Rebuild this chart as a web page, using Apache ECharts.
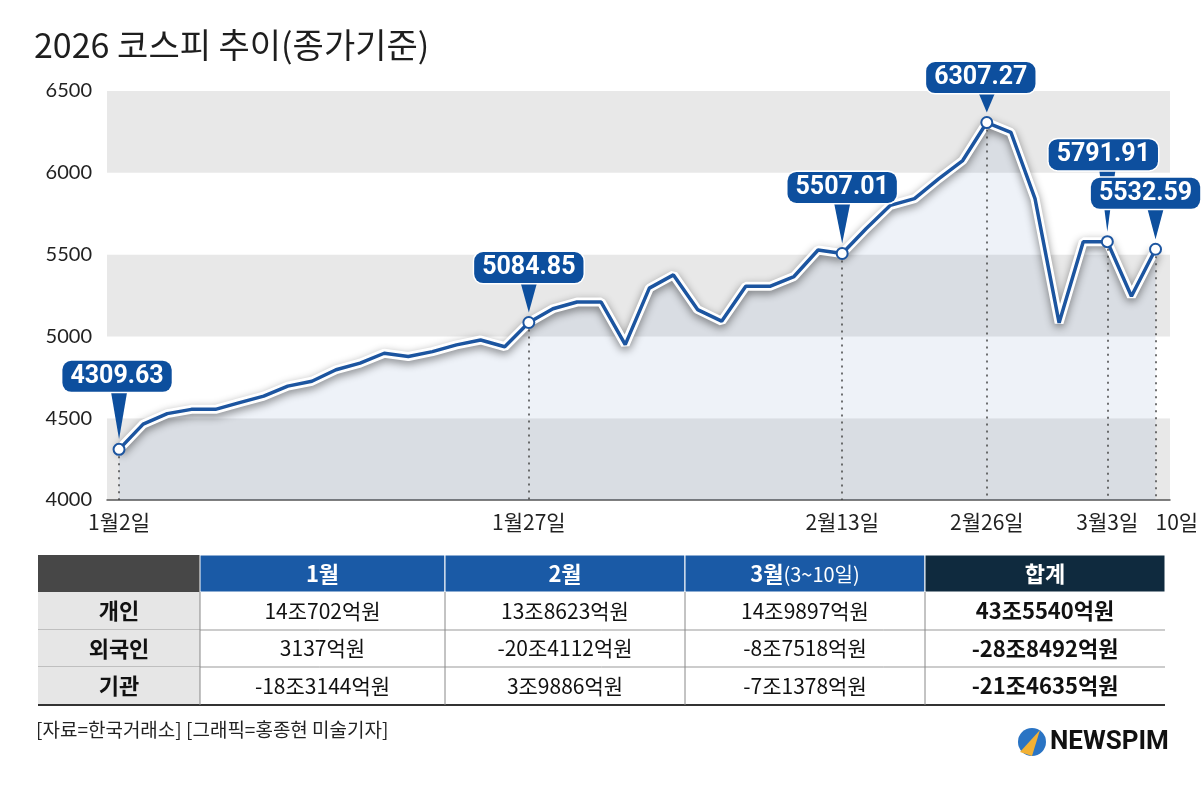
<!DOCTYPE html>
<html><head><meta charset="utf-8">
<script src="https://cdn.jsdelivr.net/npm/echarts@6/dist/echarts.min.js"></script>
<style>html,body{margin:0;padding:0;background:#fff}#c{width:1204px;height:786px}</style>
</head><body><div id="c"></div>
<script>
const title = '2026 코스피 추이(종가기준)';
const kospi = [4309.63,4464,4528,4554,4554,4595,4635,4696,4726,4796,4837,4897,4877,4907,4948,4978,4937,5084.85,5169,5210,5210,4950,5295,5376,5164,5093,5306,5306,5366,5528,5507.01,5660,5801,5842,5963,6075,6307.27,6247,5842,5083,5579,5579,5245,5532.59];
const xTickIndex = [0,17,30,36,41,43];
const xTickLabels = ['1월2일','1월27일','2월13일','2월26일','3월3일','10일'];
const markedIndex = [0,17,30,36,41,43];
const markedText = ['4309.63','5084.85','5507.01','6307.27','5791.91','5532.59'];
const yTicks = [4000,4500,5000,5500,6000,6500];
const tableCols = ['1월','2월','3월','합계'];
const tableRows = ['개인','외국인','기관'];
const tableVals = [
  ['14조702억원','13조8623억원','14조9897억원','43조5540억원'],
  ['3137억원','-20조4112억원','-8조7518억원','-28조8492억원'],
  ['-18조3144억원','3조9886억원','-7조1378억원','-21조4635억원']
];
const source = '[자료=한국거래소] [그래픽=홍종현 미술기자]';
const logo = 'NEWSPIM';

const F = '"Noto Sans CJK KR","Noto Sans",sans-serif';
const NUMF = '"Roboto","Lato",sans-serif';
const boxOff = [[-2,-73],[0,-55],[0,-66],[-6,-45],[-4,-87],[-10,-56]];
const lineData = kospi.map((v,i)=>[i,v]);
const markData = markedIndex.map((i,k)=>({
  value:[i,kospi[i]],
  label:{show:true,formatter:markedText[k],offset:boxOff[k]}
}));
const triData = markedIndex.map((i,k)=>{
  const top = boxOff[k][1]+16, bot = -10;
  return {value:[i,kospi[i]],symbolSize:[16,bot-top],symbolOffset:[0,(top+bot)/2]};
});
const dotLines = markedIndex.map(i=>[{coord:[i,kospi[i]]},{coord:[i,4000]}]);

const g = [];
g.push({type:'text',left:34,top:28,style:{text:title,font:'400 34px '+F,fill:'#1e1e1e'}});
const colX = [38,200,445,685,925,1165];
const rowY = [555,592,630,667,705];
g.push({type:'rect',shape:{x:colX[0],y:rowY[0],width:colX[1]-colX[0],height:rowY[1]-rowY[0]},style:{fill:'#474747'}});
for(let c=0;c<4;c++){
  g.push({type:'rect',shape:{x:colX[c+1],y:rowY[0],width:colX[c+2]-colX[c+1],height:rowY[1]-rowY[0]},style:{fill:c<3?'#1a5aa6':'#0f2a3e',stroke:'#ffffff',lineWidth:1}});
  const cx=(colX[c+1]+colX[c+2])/2;
  if(c===2){
    g.push({type:'text',x:cx,y:574,style:{text:'{b|3월}{n|(3~10일)}',rich:{b:{font:'700 22px '+F,fill:'#fff'},n:{font:'400 20px '+F,fill:'#fff'}},align:'center',verticalAlign:'middle'}});
  } else {
    g.push({type:'text',x:cx,y:574,style:{text:tableCols[c],font:'700 22px '+F,fill:'#fff',align:'center',verticalAlign:'middle'}});
  }
}
for(let r=0;r<3;r++){
  const y0=rowY[r+1], y1=rowY[r+2], cy=(y0+y1)/2;
  g.push({type:'rect',shape:{x:colX[0],y:y0,width:colX[1]-colX[0],height:y1-y0},style:{fill:'#e6e6e6'}});
  g.push({type:'text',x:(colX[0]+colX[1])/2,y:cy,style:{text:tableRows[r],font:'700 22px '+F,fill:'#111',align:'center',verticalAlign:'middle'}});
  for(let c=0;c<4;c++){
    g.push({type:'text',x:(colX[c+1]+colX[c+2])/2,y:cy,style:{text:tableVals[r][c],font:(c===3?'700 22px ':'400 21px ')+F,fill:'#111',align:'center',verticalAlign:'middle'}});
  }
  g.push({type:'line',shape:{x1:colX[0],y1:y1,x2:colX[5],y2:y1},style:{stroke:r===2?'#333':'#999',lineWidth:r===2?2:1}});
}
for(let c=1;c<5;c++) g.push({type:'line',shape:{x1:colX[c],y1:rowY[1],x2:colX[c],y2:rowY[4]},style:{stroke:'#888',lineWidth:1}});
g.push({type:'text',left:36,top:720,style:{text:source,font:'400 19px '+F,fill:'#222'}});
g.push({type:'circle',shape:{cx:1032,cy:742,r:14},style:{fill:'#2a74c4'}});
g.push({type:'polygon',shape:{points:[[1020,752],[1040,730],[1032,756]]},style:{fill:'#f2b134'}});
g.push({type:'text',left:1050,top:729,style:{text:logo,font:'700 26px "Roboto","Liberation Sans",sans-serif',fill:'#111'}});

const chart = echarts.init(document.getElementById('c'));
chart.setOption({
  animation:false,
  backgroundColor:'#fff',
  grid:{left:107,right:34,top:91,bottom:286},
  xAxis:{type:'value',min:-0.5,max:43.6,
    axisLine:{show:true,lineStyle:{color:'#555',width:1.5}},axisTick:{show:false},splitLine:{show:false},
    axisLabel:{customValues:xTickIndex,alignMaxLabel:'left',formatter:v=>xTickLabels[xTickIndex.indexOf(Math.round(v))]||'',fontFamily:F,fontSize:21,color:'#222',margin:12}},
  yAxis:{type:'value',min:4000,max:6500,interval:500,
    axisLine:{show:false},axisTick:{show:false},splitLine:{show:false},
    splitArea:{show:true,areaStyle:{color:['#e8e8e8','#ffffff']}},
    axisLabel:{formatter:v=>String(v),fontFamily:'Lato,"Noto Sans",sans-serif',fontSize:20,color:'#222',margin:15,verticalAlign:'middle'}},
  series:[
    {type:'line',data:lineData,symbol:'none',z:2,
      lineStyle:{color:'#ffffff',width:9,shadowColor:'rgba(0,0,0,0.45)',shadowBlur:8,shadowOffsetY:3},
      areaStyle:{color:'rgba(60,100,170,0.12)',origin:'start'},
      markLine:{silent:true,symbol:'none',label:{show:false},lineStyle:{color:'#444',type:[2,5],width:1.5},data:dotLines}},
    {type:'line',data:lineData,symbol:'none',z:3,lineStyle:{color:'#1c55a0',width:3.5}},
    {type:'scatter',data:triData,symbol:'triangle',symbolRotate:180,z:4,itemStyle:{color:'#0d4f9e',opacity:1}},
    {type:'scatter',data:markData,symbol:'circle',symbolSize:11,z:6,
      itemStyle:{color:'#fff',borderColor:'#1c55a0',borderWidth:2,opacity:1},
      label:{position:'inside',fontFamily:NUMF,fontWeight:'bold',fontSize:25,color:'#fff',
        backgroundColor:'#0d4f9e',borderRadius:9,padding:[4,8,2,8],borderColor:'#fff',borderWidth:1.5}}
  ],
  graphic:g
});
</script></body></html>
